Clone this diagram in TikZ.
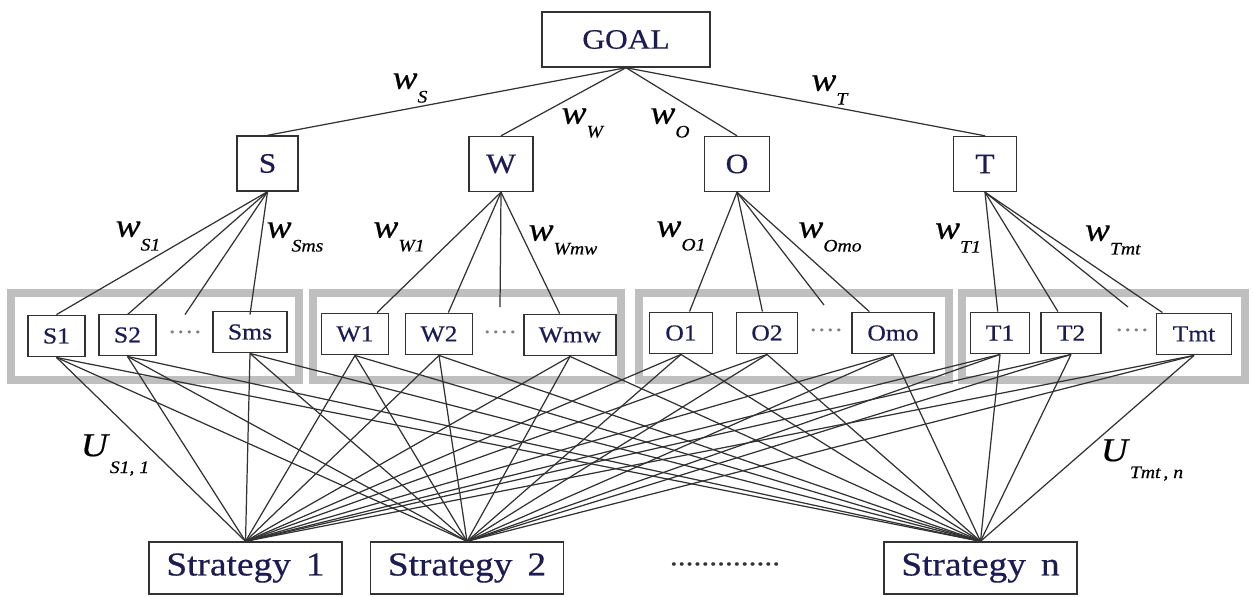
\documentclass[tikz,border=0pt]{standalone}
\usepackage{fontspec}
\setmainfont{Liberation Serif}[FakeStretch=1.12, FakeBold=0.5]
\definecolor{ink}{RGB}{28,28,82}
\definecolor{wire}{RGB}{50,50,50}
\newcommand{\wlab}[1]{\textit{w}\raisebox{-0.9ex}{\fontsize{10}{10}\selectfont\textit{#1}}}
\newcommand{\ulab}[1]{\textit{U}\raisebox{-1.1ex}{\fontsize{10}{10}\selectfont\textit{#1}}}
\begin{document}
\begin{tikzpicture}[x=0.02cm, y=-0.02cm,
    box/.style={draw=wire, line width=0.8pt, fill=white, text=ink, inner sep=0pt},
    top/.style={box, font=\fontsize{16}{18}\selectfont, minimum height=1.1cm},
    item/.style={box, font=\fontsize{13}{14}\selectfont, minimum height=0.83cm},
    strat/.style={box, font=\fontsize{19}{20}\selectfont, minimum width=3.86cm, minimum height=1.04cm},
    grp/.style={draw=gray!50, line width=4.5pt},
    lab/.style={font=\fontsize{19}{20}\selectfont, inner sep=0pt},
    dots/.style={text=gray, font=\fontsize{13}{14}\selectfont, inner sep=0pt},
    wire/.style={draw=wire, line width=0.7pt}]
    \useasboundingbox (0,0) rectangle (1253,596);

    % Group frames
    \draw[grp] (11,293) rectangle (299,380);
    \draw[grp] (313,293) rectangle (621,380);
    \draw[grp] (639,293) rectangle (949,380);
    \draw[grp] (962,293) rectangle (1245,380);

    % Define nodes
    \node[top, minimum width=3.36cm] (goal) at (626,39.5) {GOAL};
    \node[top, minimum width=1.22cm] (s) at (267.5,163.5) {S};
    \node[top, minimum width=1.28cm] (w) at (501,164) {W};
    \node[top, minimum width=1.3cm] (o) at (737,164) {O};
    \node[top, minimum width=1.26cm] (t) at (985,164) {T};

    \node[item, minimum width=1.14cm] (s1) at (56.5,336) {S1};
    \node[item, minimum width=1.14cm] (s2) at (127.5,335) {S2};
    \node[item, minimum width=1.48cm] (sms) at (250,332) {Sms};
    \node[item, minimum width=1.34cm] (w1) at (355,334) {W1};
    \node[item, minimum width=1.34cm] (w2) at (439,334) {W2};
    \node[item, minimum width=1.84cm] (wmw) at (570,335) {Wmw};
    \node[item, minimum width=1.26cm] (o1) at (681,333) {O1};
    \node[item, minimum width=1.22cm] (o2) at (767,333) {O2};
    \node[item, minimum width=1.64cm] (omo) at (893,333) {Omo};
    \node[item, minimum width=1.18cm] (t1) at (1000,333) {T1};
    \node[item, minimum width=1.2cm] (t2) at (1071,333) {T2};
    \node[item, minimum width=1.5cm] (tmt) at (1194,334) {Tmt};

    \node[dots] (sd) at (185,335) {····};
    \node[dots] (wd) at (500,335) {····};
    \node[dots] (od) at (826,333) {····};
    \node[dots] (td) at (1132,333) {····};

    \node[strat] (st1) at (245.5,568) {Strategy\hspace{0.45em}1};
    \node[strat] (st2) at (467,568) {Strategy\hspace{0.45em}2};
    \node[strat] (stn) at (980.5,568) {Strategy\hspace{0.45em}n};
    \node[dots, text=wire, font=\fontsize{16}{16}\selectfont] (sdots) at (725,564) {..............};

    \coordinate (sx) at (185,307);
    \coordinate (wx) at (500,307);
    \coordinate (ox) at (824,305);
    \coordinate (tx) at (1128,307);

    % Draw edges
    \foreach \a in {s,w,o,t}
        \draw[wire] (goal.south) -- (\a.north);
    \foreach \a in {s1,s2,sx,sms}
        \draw[wire] (s.south) -- (\a |- s1.north);
    \foreach \a in {w1,w2,wx,wmw}
        \draw[wire] (w.south) -- (\a);
    \foreach \a in {o1,o2,ox,omo}
        \draw[wire] (o.south) -- (\a);
    \foreach \a in {t1,t2,tx,tmt}
        \draw[wire] (t.south) -- (\a);
    \foreach \a in {s1,s2,sms,w1,w2,wmw,o1,o2,omo,t1,t2,tmt}
        \foreach \b in {st1,st2,stn}
            \draw[wire] (\a.south) -- (\b.north);

    % Add labels
    \node[lab] (lws) at (410,88) {\wlab{S}};
    \node[lab] (lww) at (583,123) {\wlab{W}};
    \node[lab] (lwo) at (670,123) {\wlab{O}};
    \node[lab] (lwt) at (830,90) {\wlab{T}};
    \node[lab] (lws1) at (138,236) {\wlab{S1}};
    \node[lab] (lwsms) at (295,237) {\wlab{Sms}};
    \node[lab] (lww1) at (399,237) {\wlab{W1}};
    \node[lab] (lwwmw) at (563,240) {\wlab{Wmw}};
    \node[lab] (lwo1) at (681,236) {\wlab{O1}};
    \node[lab] (lwomo) at (830,237) {\wlab{Omo}};
    \node[lab] (lwt1) at (958,238) {\wlab{T1}};
    \node[lab] (lwtmt) at (1113,240) {\wlab{Tmt}};
    \node[lab] (lus) at (115,455) {\ulab{S1, 1}};
    \node[lab] (lut) at (1142,460) {\ulab{Tmt\,, n}};
\end{tikzpicture}
\end{document}
